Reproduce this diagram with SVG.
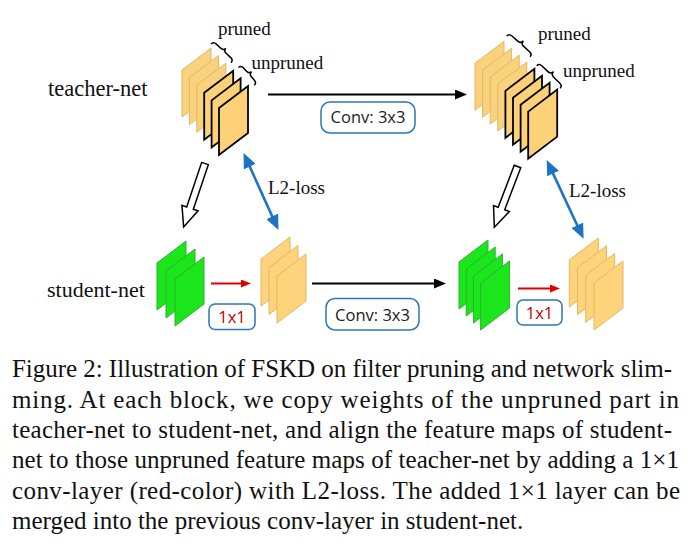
<svg xmlns="http://www.w3.org/2000/svg" xmlns:xlink="http://www.w3.org/1999/xlink" width="698" height="551" viewBox="0 0 698 551">
<style>
.pr{fill:#F9D27E;stroke:#E5B562;stroke-width:1}
.un{fill:#FDD178;stroke:#000;stroke-width:1.8;stroke-linejoin:miter}
.so{fill:#FDD37B;stroke:#E5B562;stroke-width:1}
.gr{fill:#1BE61B;stroke:#2DB02D;stroke-width:1}
.lbl{font-family:"Liberation Serif","Times New Roman",serif;fill:#111}
.cap{font-family:"Liberation Serif","Times New Roman",serif;font-size:25px;fill:#111}
.box{fill:#fff;stroke:#2E75B6;stroke-width:1.5}
.bt{font-family:"Open Sans","Noto Sans",sans-serif;font-size:16.5px;fill:#222;text-anchor:middle}
.rt{font-family:"Open Sans","Noto Sans",sans-serif;font-size:16.5px;fill:#C00000;text-anchor:middle}
.brace{fill:none;stroke:#000;stroke-width:1.5}
.hol{fill:#fff;stroke:#000;stroke-width:1.5;stroke-linejoin:miter}
</style>
<defs>
<path id="sheet" d="M0,0 L29,-22 L29,25 L0,47 Z"/>
<marker id="ab" markerUnits="userSpaceOnUse" markerWidth="12" markerHeight="10" refX="3" refY="5" orient="auto"><path d="M0,0 L12,5 L0,10 Z" fill="#000"/></marker>
<marker id="ar" markerUnits="userSpaceOnUse" markerWidth="10" markerHeight="8" refX="3" refY="4" orient="auto"><path d="M0,0 L10,4 L0,8 Z" fill="#E00000"/></marker>
<marker id="au" markerUnits="userSpaceOnUse" markerWidth="15" markerHeight="13" refX="3" refY="6.5" orient="auto-start-reverse"><path d="M0,0 L15,6.5 L0,13 Z" fill="#1F73C4"/></marker>
</defs>

<g id="teacher-block-1">
<use xlink:href="#sheet" class="pr" x="182" y="70"/>
<use xlink:href="#sheet" class="pr" x="189.4" y="77.6"/>
<use xlink:href="#sheet" class="pr" x="196.8" y="85.2"/>
<use xlink:href="#sheet" class="un" x="204.2" y="92.8"/>
<use xlink:href="#sheet" class="un" x="211.6" y="100.4"/>
<use xlink:href="#sheet" class="un" x="219" y="108"/>
<path class="brace" transform="translate(211,44) rotate(43)" d="M0,0 C0,-2.5 1.5,-3.5 4,-3.5 L9.7,-3.5 C12,-3.5 13.7,-4.5 13.7,-7 C13.7,-4.5 15.4,-3.5 17.7,-3.5 L23.4,-3.5 C25.9,-3.5 27.4,-2.5 27.4,0"/>
<path class="brace" transform="translate(238.5,67.5) rotate(48.4)" d="M0,0 C0,-2.5 1.5,-3.5 4,-3.5 L7.8,-3.5 C10.1,-3.5 11.8,-4.5 11.8,-7 C11.8,-4.5 13.5,-3.5 15.8,-3.5 L19.7,-3.5 C22.2,-3.5 23.7,-2.5 23.7,0"/>
<text class="lbl" x="218" y="35" font-size="19">pruned</text>
<text class="lbl" x="251.5" y="68.5" font-size="19">unpruned</text>
</g>

<g id="teacher-block-2">
<use xlink:href="#sheet" class="pr" x="475" y="63.3"/>
<use xlink:href="#sheet" class="pr" x="482.6" y="70.2"/>
<use xlink:href="#sheet" class="pr" x="490.2" y="77.1"/>
<use xlink:href="#sheet" class="pr" x="497.8" y="84"/>
<use xlink:href="#sheet" class="un" x="505.4" y="90.9"/>
<use xlink:href="#sheet" class="un" x="513" y="97.8"/>
<use xlink:href="#sheet" class="un" x="520.6" y="104.7"/>
<use xlink:href="#sheet" class="un" x="528.2" y="111.6"/>
<path class="brace" transform="translate(506.7,36) rotate(41.6)" d="M0,0 C0,-2.5 1.5,-3.5 4,-3.5 L11.6,-3.5 C13.9,-3.5 15.6,-4.5 15.6,-7.5 C15.6,-4.5 17.3,-3.5 19.6,-3.5 L27.2,-3.5 C29.7,-3.5 31.2,-2.5 31.2,0"/>
<path class="brace" transform="translate(536.7,65.7) rotate(44)" d="M0,0 C0,-2.5 1.5,-3.5 4,-3.5 L12.2,-3.5 C14.5,-3.5 16.2,-4.5 16.2,-7.5 C16.2,-4.5 17.9,-3.5 20.2,-3.5 L28.5,-3.5 C31,-3.5 32.5,-2.5 32.5,0"/>
<text class="lbl" x="538" y="40" font-size="19">pruned</text>
<text class="lbl" x="563" y="76.5" font-size="19">unpruned</text>
</g>

<g id="student-block-1">
<use xlink:href="#sheet" class="gr" x="157" y="263"/>
<use xlink:href="#sheet" class="gr" x="166" y="271"/>
<use xlink:href="#sheet" class="gr" x="175" y="279"/>
<use xlink:href="#sheet" class="so" x="261" y="259"/>
<use xlink:href="#sheet" class="so" x="269" y="267.5"/>
<use xlink:href="#sheet" class="so" x="277" y="276"/>
</g>

<g id="student-block-2">
<use xlink:href="#sheet" class="gr" x="459" y="262"/>
<use xlink:href="#sheet" class="gr" x="466.2" y="269"/>
<use xlink:href="#sheet" class="gr" x="473.4" y="276"/>
<use xlink:href="#sheet" class="gr" x="480.6" y="283"/>
<use xlink:href="#sheet" class="so" x="569.3" y="260"/>
<use xlink:href="#sheet" class="so" x="577.5" y="267.7"/>
<use xlink:href="#sheet" class="so" x="585.7" y="275.4"/>
<use xlink:href="#sheet" class="so" x="594" y="283"/>
</g>

<g id="labels">
<text class="lbl" x="48" y="96" font-size="22.5">teacher-net</text>
<text class="lbl" x="47" y="297" font-size="22">student-net</text>
<text class="lbl" x="268" y="194" font-size="19">L2-loss</text>
<text class="lbl" x="569" y="196.5" font-size="19">L2-loss</text>
</g>

<g id="conv-top">
<rect class="box" x="321" y="102" width="94" height="31" rx="9"/>
<text class="bt" x="368" y="123">Conv: 3x3</text>
</g>
<g id="conv-bottom">
<rect class="box" x="326" y="298.5" width="93" height="31.5" rx="9"/>
<text class="bt" x="372.5" y="320.5">Conv: 3x3</text>
</g>
<g id="one-by-one-1">
<rect class="box" x="209" y="304" width="46" height="25.5" rx="6"/>
<text class="rt" x="232" y="323">1x1</text>
</g>
<g id="one-by-one-2">
<rect class="box" x="517" y="300" width="45" height="25" rx="6"/>
<text class="rt" x="539.5" y="318.5">1x1</text>
</g>

<g id="connectors">
<line x1="268" y1="94.5" x2="458" y2="94.5" stroke="#000" stroke-width="2" marker-end="url(#ab)"/>
<line x1="312" y1="283.5" x2="437" y2="283.5" stroke="#000" stroke-width="2" marker-end="url(#ab)"/>
<line x1="211" y1="283.5" x2="244" y2="283.5" stroke="#E00000" stroke-width="2" marker-end="url(#ar)"/>
<line x1="518" y1="288.5" x2="553" y2="288.5" stroke="#E00000" stroke-width="2" marker-end="url(#ar)"/>
<line x1="248.5" y1="163.9" x2="273.5" y2="219.1" stroke="#1F73C4" stroke-width="2.6" marker-start="url(#au)" marker-end="url(#au)"/>
<line x1="551.8" y1="170.9" x2="578.5" y2="228" stroke="#1F73C4" stroke-width="2.6" marker-start="url(#au)" marker-end="url(#au)"/>
<path class="hol" transform="translate(205,163.5) rotate(18.6)" d="M-3.5,0 L3.5,0 L3.5,47 L8.5,47 L0,67 L-8.5,47 L-3.5,47 Z"/>
<path class="hol" transform="translate(517.5,166.5) rotate(20.9)" d="M-3.5,0 L3.5,0 L3.5,45 L8.5,45 L0,65 L-8.5,45 L-3.5,45 Z"/>
</g>

<g id="caption">
<text class="cap" x="12" y="377" textLength="660" lengthAdjust="spacing">Figure 2: Illustration of FSKD on filter pruning and network slim-</text>
<text class="cap" x="12" y="407.5" textLength="667" lengthAdjust="spacing">ming.  At each block, we copy weights of the unpruned part in</text>
<text class="cap" x="12" y="438" textLength="660" lengthAdjust="spacing">teacher-net to student-net, and align the feature maps of student-</text>
<text class="cap" x="12" y="468.3" textLength="667" lengthAdjust="spacing">net to those unpruned feature maps of teacher-net by adding a 1×1</text>
<text class="cap" x="12" y="498.6" textLength="668" lengthAdjust="spacing">conv-layer (red-color) with L2-loss. The added 1×1 layer can be</text>
<text class="cap" x="12" y="529">merged into the previous conv-layer in student-net.</text>
</g>
</svg>
